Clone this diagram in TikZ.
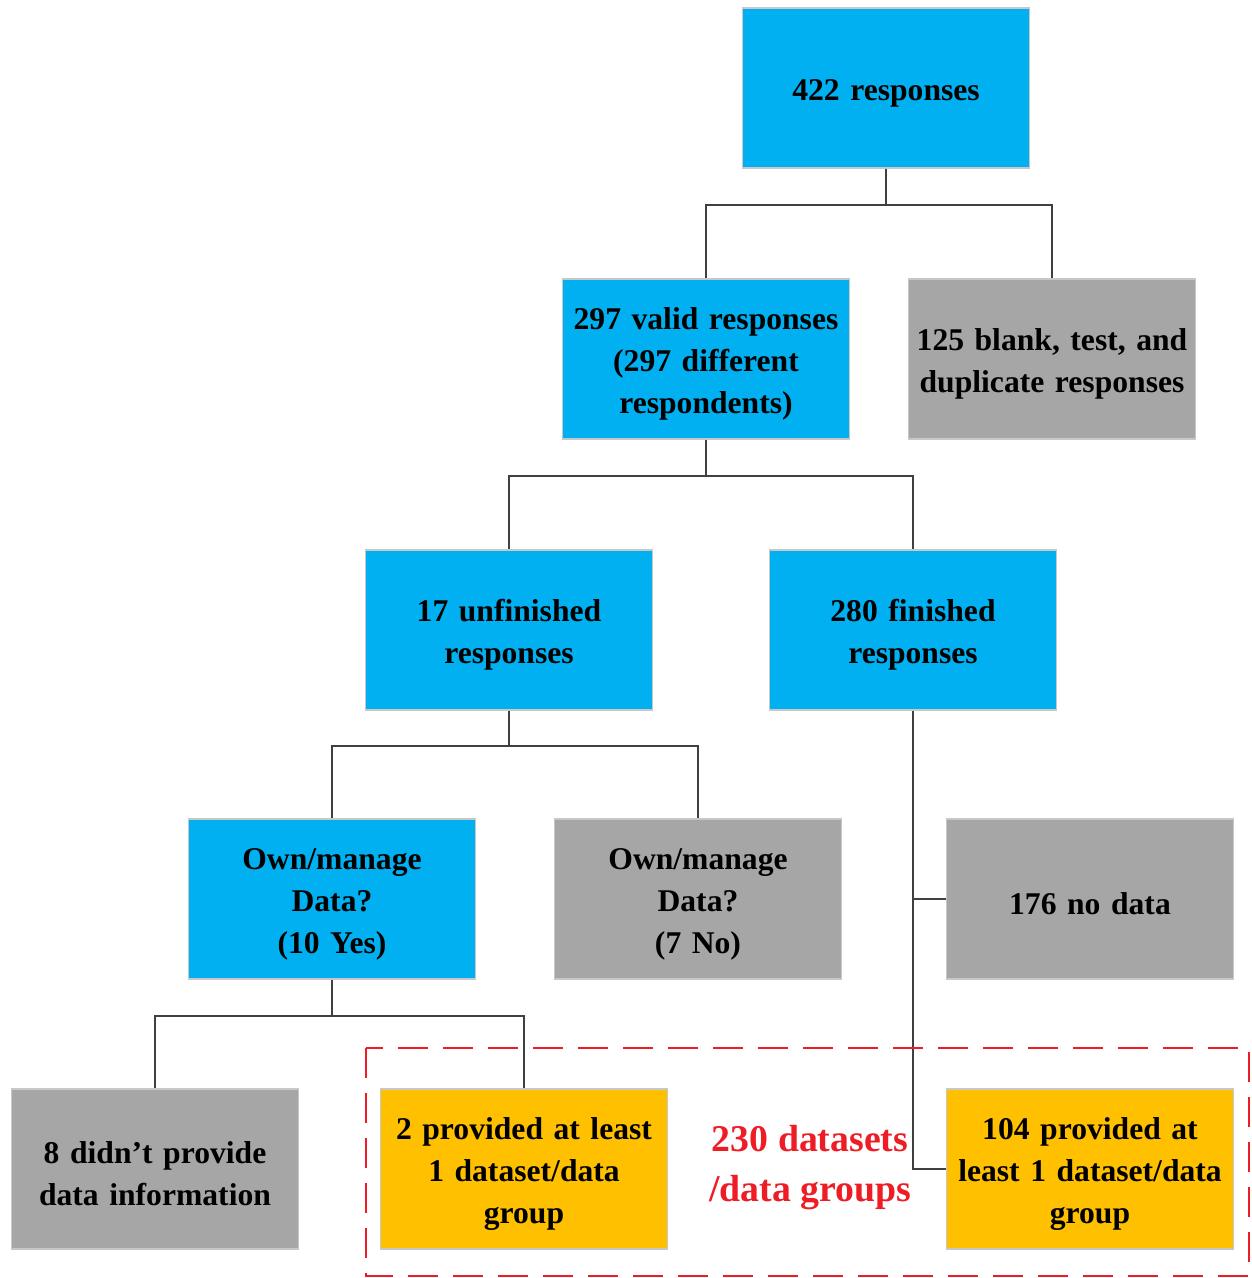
\documentclass[tikz,border=0pt]{standalone}
\usepackage{fontspec}
\setmainfont{Liberation Serif}
\usetikzlibrary{calc}
\definecolor{boxblue}{HTML}{00B0F0}
\definecolor{boxgray}{HTML}{A6A6A6}
\definecolor{boxgold}{HTML}{FFC000}
\definecolor{edgegray}{HTML}{C8C8C8}
\definecolor{linkgray}{HTML}{404040}
\definecolor{groupred}{HTML}{EE1C25}
\tikzset{
  box/.style={rectangle, draw=edgegray, line width=0.8pt, minimum width=5.74cm, minimum height=3.2cm,
    text width=5.6cm, align=center, inner sep=0pt,
    execute at begin node={\rule{0pt}{18pt}},
    font=\fontsize{18}{23.9}\selectfont\bfseries},
  bluebox/.style={box, fill=boxblue},
  graybox/.style={box, fill=boxgray},
  goldbox/.style={box, fill=boxgold},
  link/.style={draw=linkgray, line width=1.1pt},
  grouping/.style={draw=groupred, line width=1.4pt, dash pattern=on 0.6cm off 0.3cm},
}
\begin{document}
\begin{tikzpicture}[x=0.02cm, y=-0.02cm]
\useasboundingbox (0,0) rectangle (1251,1278);

% boxes
\node[bluebox] (total)    at (886,88)   {422 responses};
\node[bluebox] (valid)    at (706,359)  {297 valid responses\\(297 different\\respondents)};
\node[graybox] (blank)    at (1052,359) {125 blank, test, and\\duplicate responses};
\node[bluebox] (unfin)    at (509,630)  {17 unfinished\\responses};
\node[bluebox] (fin)      at (913,630)  {280 finished\\responses};
\node[bluebox] (ownyes)   at (332,899)  {Own/manage\\Data?\\(10 Yes)};
\node[graybox] (ownno)    at (698,899)  {Own/manage\\Data?\\(7 No)};
\node[graybox] (nodata)   at (1090,899) {176 no data};
\node[graybox] (noinfo)   at (155,1169) {8 didn’t provide\\data information};
\node[goldbox] (prov2)    at (524,1169) {2 provided at least\\1 dataset/data\\group};
\node[goldbox] (prov104)  at (1090,1169){104 provided at\\least 1 dataset/data\\group};

% junction points of the tree
\coordinate (j1) at (886,205);
\coordinate (j2) at (706,476);
\coordinate (j3) at (509,746);
\coordinate (j4) at (332,1016);

% connectors
\draw[link] (total.south) -- (j1) -| (valid.north);
\draw[link] (j1) -| (blank.north);
\draw[link] (valid.south) -- (j2) -| (unfin.north);
\draw[link] (j2) -| (fin.north);
\draw[link] (unfin.south) -- (j3) -| (ownyes.north);
\draw[link] (j3) -| (ownno.north);
\draw[link] (fin.south) |- (prov104.west);
\draw[link] (fin.south |- nodata.west) -- (nodata.west);
\draw[link] (ownyes.south) -- (j4) -| (noinfo.north);
\draw[link] (j4) -| (prov2.north);

% group of data providers
\draw[grouping] (366,1048) rectangle (1249,1276);
\node[text=groupred, align=center, font=\fontsize{21.5}{28.5}\selectfont\bfseries] (groupnote) at (810,1168) {230 datasets\\/data groups};
\end{tikzpicture}
\end{document}
